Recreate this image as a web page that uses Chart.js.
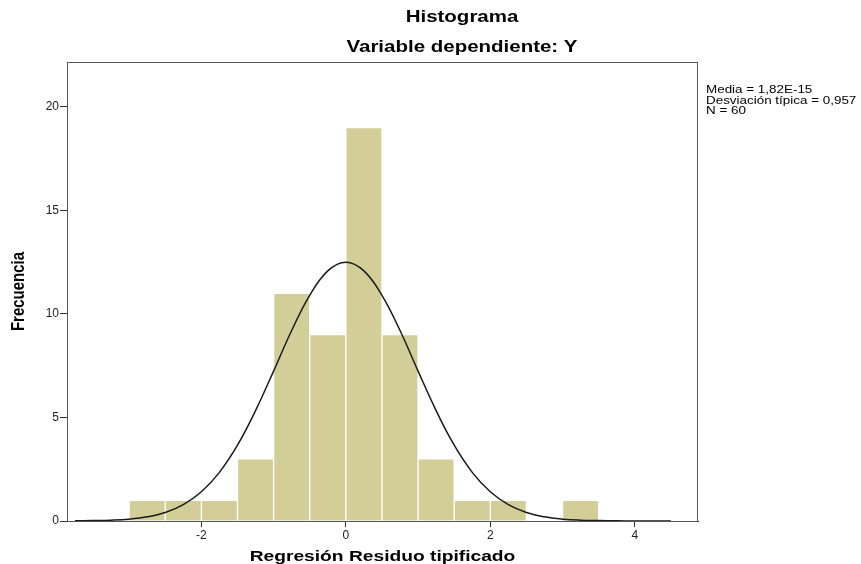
<!DOCTYPE html>
<html>
<head>
<meta charset="utf-8">
<script src="https://cdn.jsdelivr.net/npm/chart.js@4"></script>
<style>
  body { margin: 0; background: #fff; }
  #wrap { width: 861px; height: 564px; position: relative; }
</style>
</head>
<body>
<div id="wrap"><canvas id="chart"></canvas></div>
<script>
// histogram bins (centers, width 0.5) and counts
const binCenters = [-2.75, -2.25, -1.75, -1.25, -0.75, -0.25, 0.25, 0.75, 1.25, 1.75, 2.25, 2.75, 3.25];
const counts = [1, 1, 1, 3, 11, 9, 19, 9, 3, 1, 1, 0, 1];

// normal curve
const curveX = [-3.75, -3.5, -3.25, -3, -2.75, -2.5, -2.25, -2, -1.75, -1.5, -1.25, -1, -0.75, -0.5, -0.25, 0,
  0.25, 0.5, 0.75, 1, 1.25, 1.5, 1.75, 2, 2.25, 2.5, 2.75, 3, 3.25, 3.5, 3.75, 4, 4.25, 4.5];
const curveY = [0.01, 0.02, 0.04, 0.09, 0.2, 0.41, 0.79, 1.41, 2.35, 3.66, 5.33, 7.24, 9.2, 10.9, 12.08, 12.5,
  12.08, 10.9, 9.2, 7.24, 5.33, 3.66, 2.35, 1.41, 0.79, 0.41, 0.2, 0.09, 0.04, 0.02, 0.01, 0, 0, 0];

const xTicks = [-2, 0, 2, 4];
const yTicks = [0, 5, 10, 15, 20];

const titleLines = ['Histograma', 'Variable dependiente: Y'];
const statsLines = ['Media = 1,82E-15', 'Desviación típica = 0,957', 'N = 60'];
const xTitle = 'Regresión Residuo tipificado';
const yTitle = 'Frecuencia';

const FONT = '"Liberation Sans", Arial, sans-serif';
const STRETCH = 1.28; // the original picture is wider than tall

function stretchText(ctx, text, x, y, align, k) {
  ctx.save();
  ctx.translate(x, y);
  ctx.scale(k || STRETCH, 1);
  ctx.textAlign = align;
  ctx.fillText(text, 0, 0);
  ctx.restore();
}

const textPlugin = {
  id: 'texts',
  afterDraw(chart) {
    const ctx = chart.ctx;
    const a = chart.chartArea;
    ctx.save();
    // frame
    ctx.strokeStyle = '#555';
    ctx.lineWidth = 1;
    ctx.strokeRect(a.left + 0.5, a.top + 0.5, a.right - a.left - 1, a.bottom - a.top);

    ctx.fillStyle = '#000';
    ctx.textBaseline = 'middle';
    ctx.font = 'bold 16px ' + FONT;
    stretchText(ctx, titleLines[0], 462, 18, 'center');
    stretchText(ctx, titleLines[1], 462, 48, 'center');

    ctx.font = 'bold 15px ' + FONT;
    stretchText(ctx, xTitle, (a.left + a.right) / 2, 557, 'center');

    // y title, rotated
    ctx.save();
    ctx.translate(19, (a.top + a.bottom) / 2);
    ctx.scale(STRETCH, 1);
    ctx.rotate(-Math.PI / 2);
    ctx.textAlign = 'center';
    ctx.fillText(yTitle, 0, 0);
    ctx.restore();

    ctx.font = '11px ' + FONT;
    statsLines.forEach((s, i) => stretchText(ctx, s, 706, 90 + i * 10.5, 'left', 1.22));
    ctx.restore();
  }
};

const ctx = document.querySelector('#chart').getContext('2d');

new Chart(ctx, {
  data: {
    datasets: [
      {
        type: 'line',
        data: curveX.map((x, i) => ({x: x, y: curveY[i]})),
        borderColor: '#1a1a1a',
        borderWidth: 1.5,
        pointRadius: 0,
        tension: 0.4,
        order: 0
      },
      {
        type: 'bar',
        data: binCenters.map((x, i) => ({x: x, y: counts[i]})),
        backgroundColor: '#d3ce98',
        borderColor: '#ffffff',
        borderWidth: 1,
        barPercentage: 1,
        categoryPercentage: 1,
        order: 1
      }
    ]
  },
  options: {
    responsive: true,
    maintainAspectRatio: false,
    animation: false,
    layout: { padding: { top: 62, right: 163, bottom: 0, left: 0 } },
    plugins: {
      legend: { display: false },
      tooltip: { enabled: false }
    },
    scales: {
      x: {
        type: 'linear',
        offset: false,
        min: -3.86,
        max: 4.875,
        afterBuildTicks: s => { s.ticks = xTicks.map(v => ({value: v})); },
        afterFit: s => { s.height = 43; },
        grid: { offset: false, drawOnChartArea: false, drawTicks: true, tickLength: 6, color: '#333' },
        border: { color: '#333' },
        ticks: { color: '#222', font: { family: FONT, size: 12 }, padding: 1, maxRotation: 0 }
      },
      y: {
        min: 0,
        max: 22.17,
        afterBuildTicks: s => { s.ticks = yTicks.map(v => ({value: v})); },
        afterFit: s => { s.width = 67; },
        grid: { drawOnChartArea: false, drawTicks: true, tickLength: 7, color: '#333' },
        border: { color: '#333' },
        ticks: { color: '#222', font: { family: FONT, size: 12 }, padding: 1 }
      }
    }
  },
  plugins: [textPlugin]
});
</script>
</body>
</html>
